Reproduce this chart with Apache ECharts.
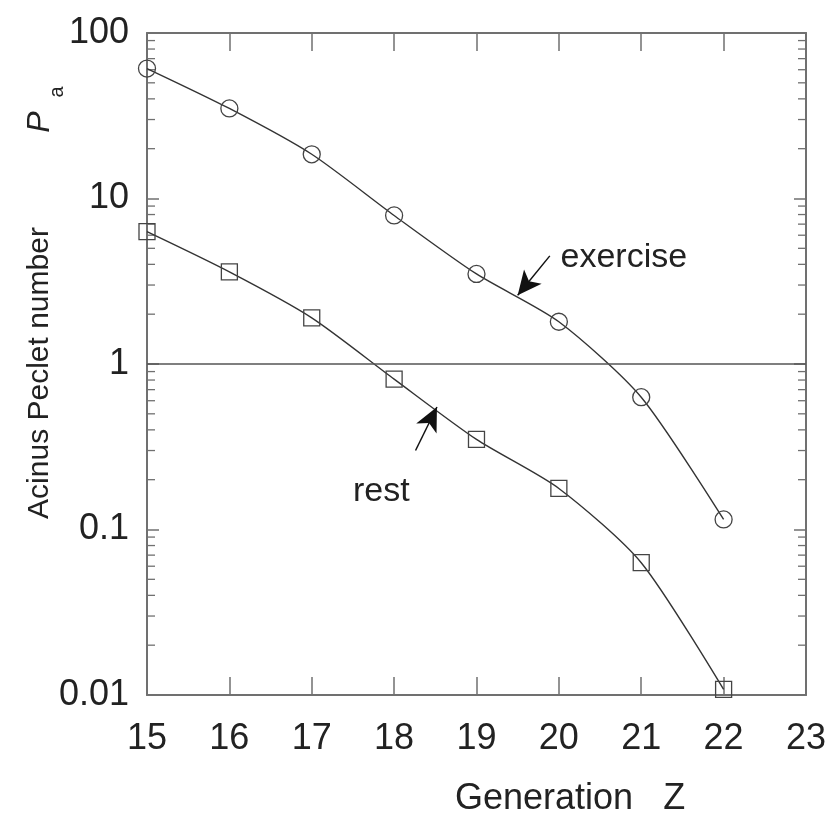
<!DOCTYPE html>
<html><head><meta charset="utf-8">
<script src="https://cdn.jsdelivr.net/npm/echarts@6/dist/echarts.min.js"></script>
<style>html,body{margin:0;padding:0;background:#fff}#c{width:829px;height:817px}</style>
</head><body><div id="c"></div>
<script>
var generations = [15, 16, 17, 18, 19, 20, 21, 22];
var exerciseValues = [61, 35, 18.5, 7.9, 3.5, 1.8, 0.63, 0.115];
var restValues = [6.3, 3.6, 1.9, 0.81, 0.35, 0.177, 0.063, 0.0108];
var xTicks = [15, 16, 17, 18, 19, 20, 21, 22, 23];
var yTickLabels = ['0.01', '0.1', '1', '10', '100'];
var decades = [0.01, 0.1, 1, 10];
var minorMultipliers = [2, 3, 4, 5, 6, 7, 8, 9];
var exerciseArrow = [[19.89, 4.5], [19.5, 2.6]];
var restArrow = [[18.26, 0.30], [18.52, 0.55]];
var exerciseLabelPos = [20.02, 4.4];
var restLabelPos = [17.5, 0.17];

var minorTicks = [];
decades.forEach(function (d) { minorMultipliers.forEach(function (m) { minorTicks.push(d * m); }); });

var font = '"Liberation Sans", Arial, sans-serif';
var axisColor = '#707070';
var lineColor = '#333';

function pairs(xs, ys) { return xs.map(function (x, i) { return [x, ys[i]]; }); }
function yLabel(v) { var k = Math.round(Math.log10(v)) + 2; return yTickLabels[k] !== undefined ? yTickLabels[k] : ''; }

var chart = echarts.init(document.getElementById('c'));
chart.setOption({
  animation: false,
  backgroundColor: '#fff',
  grid: { left: 147, right: 20, top: 33, bottom: 122 },
  xAxis: [
    { type: 'value', min: 15, max: 23, interval: 1, position: 'bottom',
      axisLine: { show: true, lineStyle: { color: axisColor, width: 2 } },
      axisTick: { show: true, inside: true, length: 18, lineStyle: { color: axisColor, width: 1.5 } },
      axisLabel: { fontSize: 36, fontFamily: font, color: '#222', margin: 26 },
      splitLine: { show: false } },
    { type: 'value', min: 15, max: 23, interval: 1, position: 'top',
      axisLine: { show: true, lineStyle: { color: axisColor, width: 2 } },
      axisTick: { show: true, inside: true, length: 18, lineStyle: { color: axisColor, width: 1.5 } },
      axisLabel: { show: false }, splitLine: { show: false } }
  ],
  yAxis: [
    { type: 'log', logBase: 10, min: 0.01, max: 100, position: 'left',
      axisLine: { show: true, lineStyle: { color: axisColor, width: 2 } },
      axisTick: { show: true, inside: true, length: 12, lineStyle: { color: axisColor, width: 1.5 } },
      minorTick: { show: false },
      axisLabel: { fontSize: 36, fontFamily: font, color: '#222', margin: 18, formatter: yLabel },
      splitLine: { show: false } },
    { type: 'log', logBase: 10, min: 0.01, max: 100, position: 'right',
      axisLine: { show: true, lineStyle: { color: axisColor, width: 2 } },
      axisTick: { show: true, inside: true, length: 12, lineStyle: { color: axisColor, width: 1.5 } },
      axisLabel: { show: false }, splitLine: { show: false } }
  ],
  graphic: [
    { type: 'text', left: 455, top: 781, style: {
        text: 'Generation   Z', font: '36px ' + font, fill: '#222' } },
    { type: 'text', x: 40, y: 373, rotation: Math.PI / 2, style: {
        text: 'Acinus Peclet number', font: '30px ' + font, fill: '#222',
        align: 'center', verticalAlign: 'middle' } },
    { type: 'text', x: 40, y: 122, rotation: Math.PI / 2, style: {
        text: 'P', font: 'italic 32px ' + font, fill: '#222',
        align: 'center', verticalAlign: 'middle' } },
    { type: 'text', x: 57, y: 92, rotation: Math.PI / 2, style: {
        text: 'a', font: '20px ' + font, fill: '#222',
        align: 'center', verticalAlign: 'middle' } }
  ],
  series: [
    { name: 'exercise', type: 'line', data: pairs(generations, exerciseValues), smooth: 0.25,
      symbol: 'circle', symbolSize: 17, clip: false,
      lineStyle: { color: lineColor, width: 1.4 },
      itemStyle: { color: 'rgba(255,255,255,0)', borderColor: '#444', borderWidth: 1.3 },
      markLine: { silent: true, symbol: 'none', label: { show: false },
        lineStyle: { color: '#555', width: 1.5, type: 'solid' },
        data: [ { yAxis: 1 },
          [ { coord: exerciseArrow[0], symbol: 'none', lineStyle: { color: '#111', width: 1.5 } },
            { coord: exerciseArrow[1], symbol: 'arrow', symbolSize: [17, 24] } ],
          [ { coord: restArrow[0], symbol: 'none', lineStyle: { color: '#111', width: 1.5 } },
            { coord: restArrow[1], symbol: 'arrow', symbolSize: [17, 24] } ] ] },
      markPoint: { silent: true, symbol: 'circle', symbolSize: 0,
        label: { show: true, position: 'right', distance: 0, fontSize: 34, fontFamily: font, color: '#222' },
        data: [ { coord: exerciseLabelPos, value: 'exercise', label: { formatter: 'exercise' } },
                { coord: restLabelPos, value: 'rest', label: { formatter: 'rest' } } ] } },
    { name: 'rest', type: 'line', data: pairs(generations, restValues), smooth: 0.25,
      symbol: 'rect', symbolSize: 16, clip: false,
      lineStyle: { color: lineColor, width: 1.4 },
      itemStyle: { color: 'rgba(255,255,255,0)', borderColor: '#444', borderWidth: 1.3 } },
    { name: 'minorTicks', type: 'custom', silent: true, clip: false,
      data: minorTicks.map(function (v) { return [15, v]; }),
      renderItem: function (params, api) {
        var v = api.value(1);
        var pl = api.coord([15, v]);
        var pr = api.coord([23, v]);
        return { type: 'group', children: [
          { type: 'line', shape: { x1: pl[0], y1: pl[1], x2: pl[0] + 8, y2: pl[1] }, style: { stroke: axisColor, lineWidth: 1.3 } },
          { type: 'line', shape: { x1: pr[0], y1: pr[1], x2: pr[0] - 8, y2: pr[1] }, style: { stroke: axisColor, lineWidth: 1.3 } } ] };
      } }
  ]
});
</script></body></html>
